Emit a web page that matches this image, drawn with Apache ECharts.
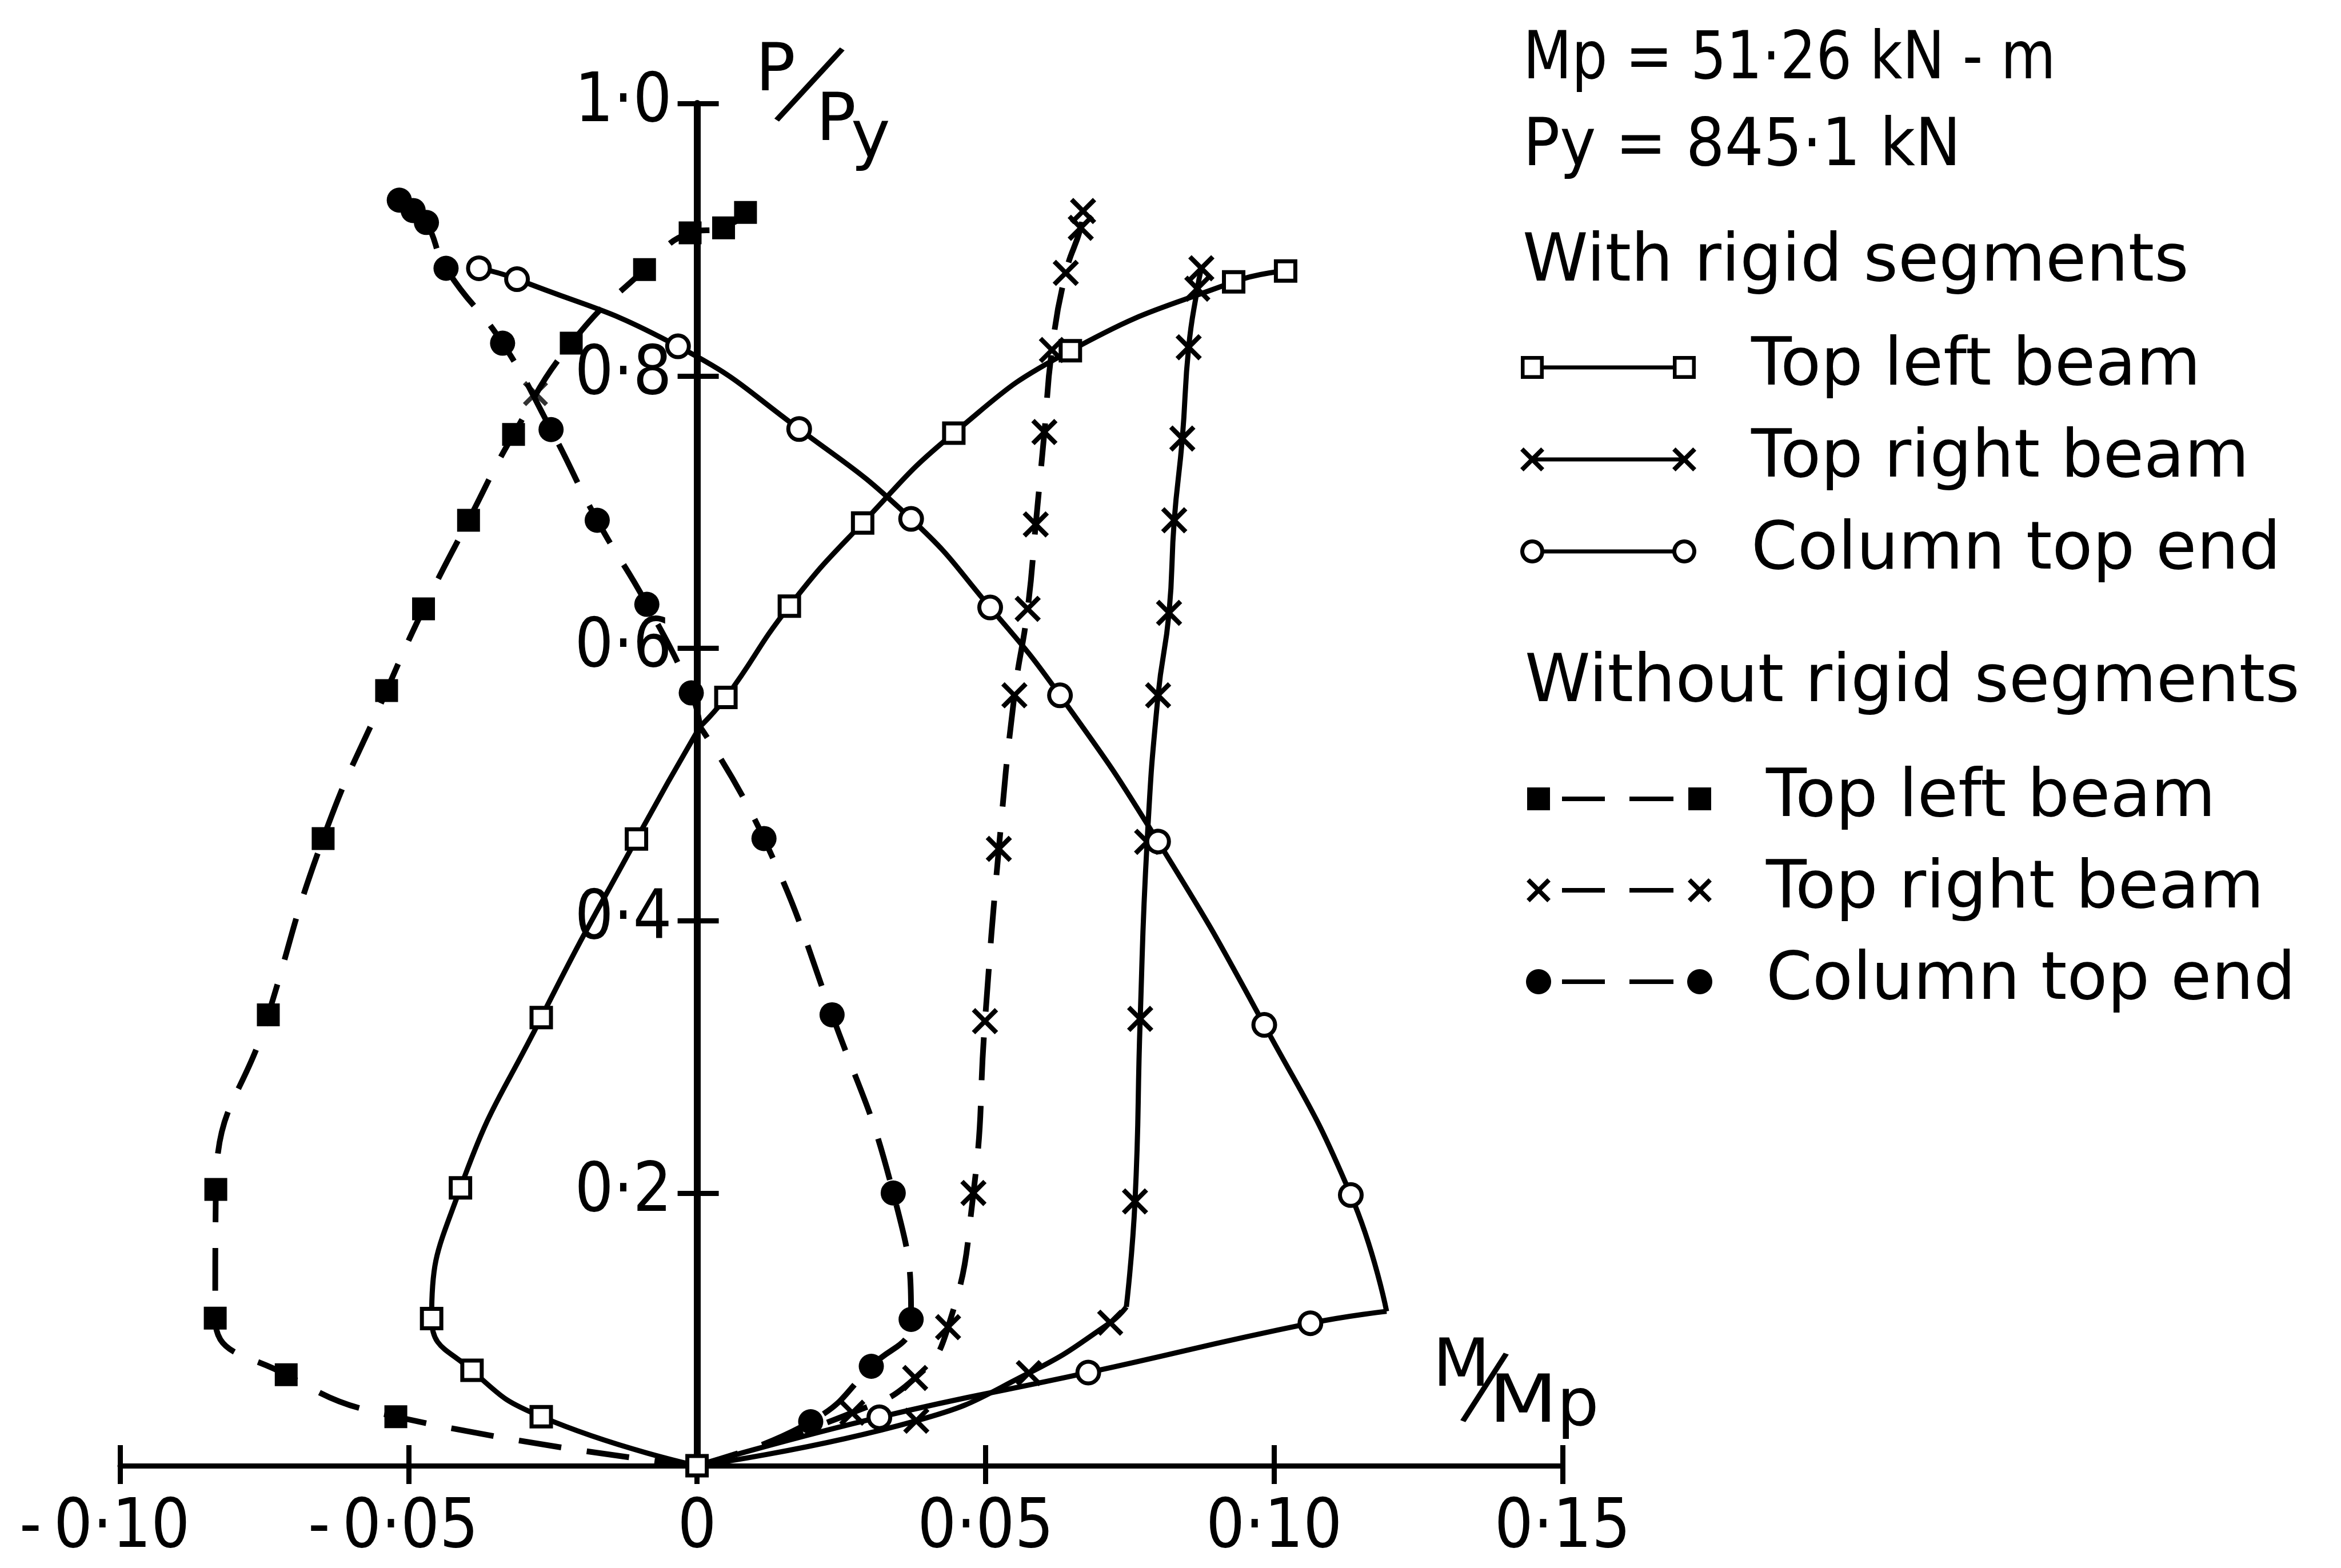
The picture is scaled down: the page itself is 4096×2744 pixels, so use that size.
<!DOCTYPE html>
<html>
<head>
<meta charset="utf-8">
<title>P/Py – M/Mp interaction at the column top</title>
<script src="https://cdn.jsdelivr.net/npm/echarts/dist/echarts.min.js"></script>
<style>
  html, body { margin: 0; padding: 0; background: #fff; }
  #chart { width: 4096px; height: 2744px; }
</style>
</head>
<body>
<div id="chart"></div>
<script>
// ---- axes -------------------------------------------------------------
const xMin = -0.10, xMax = 0.15, xStep = 0.05;
const yMin = 0, yMax = 1.0, yStep = 0.2;
const xTickLabels = ['-\u20090·10', '-\u20090·05', '0', '0·05', '0·10', '0·15'];
const yTickLabels = ['', '0·2', '0·4', '0·6', '0·8', '1·0'];

// ---- curves: [M/Mp, P/Py], from the origin upwards --------------------
// with rigid segments
const withTopLeft = [[0, 0], [-0.027, 0.036], [-0.039, 0.070], [-0.046, 0.108], [-0.041, 0.204],
  [-0.027, 0.329], [-0.0105, 0.460], [0.0005, 0.5425], [0.005, 0.564], [0.016, 0.631],
  [0.0287, 0.692], [0.0445, 0.758], [0.0647, 0.8185], [0.093, 0.869], [0.102, 0.877]];
const withTopRight = [[0, 0], [0.038, 0.033], [0.0575, 0.068], [0.0716, 0.105], [0.0744, 0.1166],
  [0.0759, 0.194], [0.0768, 0.328], [0.078, 0.458], [0.0799, 0.5655], [0.0818, 0.626],
  [0.0827, 0.694], [0.0841, 0.754], [0.0852, 0.821], [0.0867, 0.864], [0.0874, 0.879]];
const withColumnTop = [[0, 0], [0.0316, 0.0356], [0.0678, 0.0684], [0.1063, 0.1046], [0.1195, 0.1133],
  [0.1133, 0.1987], [0.0983, 0.3236], [0.0799, 0.4582], [0.0629, 0.5655], [0.0508, 0.630],
  [0.0371, 0.695], [0.0177, 0.761], [-0.0033, 0.8217], [-0.0312, 0.871], [-0.0378, 0.879]];
// without rigid segments
const bareTopLeft = [[0, 0], [-0.0522, 0.036], [-0.0712, 0.0668], [-0.0835, 0.1083], [-0.0834, 0.2028],
  [-0.0743, 0.331], [-0.0648, 0.4604], [-0.0538, 0.569], [-0.0474, 0.629], [-0.0396, 0.694],
  [-0.0318, 0.757], [-0.0218, 0.824], [-0.0091, 0.878], [-0.0012, 0.905], [0.0046, 0.9087], [0.0084, 0.920]];
const bareTopRight = [[0, 0], [0.0269, 0.0389], [0.0378, 0.0644], [0.0435, 0.1017], [0.0479, 0.2002],
  [0.0499, 0.3263], [0.0523, 0.4528], [0.055, 0.5655], [0.0573, 0.629], [0.0587, 0.691],
  [0.0602, 0.7588], [0.0615, 0.819], [0.0639, 0.8756], [0.0665, 0.9087], [0.0669, 0.921]];
const bareColumnTop = [[0, 0], [0.0197, 0.0323], [0.0302, 0.073], [0.0371, 0.1074], [0.034, 0.2002],
  [0.0234, 0.331], [0.0116, 0.4604], [0.0005, 0.5425], [-0.001, 0.5673], [-0.0087, 0.6323],
  [-0.0173, 0.694], [-0.0253, 0.7606], [-0.0337, 0.824], [-0.0435, 0.879], [-0.0469, 0.9126],
  [-0.0492, 0.9214], [-0.0516, 0.929]];
// lone cross where the two dashed left-hand curves meet
const crossingMark = [[-0.028, 0.787]];

// vertices drawn without a marker, and sharp corners of each curve
const withTopLeftPlain = [7], withTopLeftCorners = [7];
const withTopRightPlain = [0, 4], withTopRightCorners = [4];
const withColumnTopPlain = [0, 4], withColumnTopCorners = [4];
const bareTopLeftPlain = [0], bareTopLeftCorners = [];
const bareTopRightPlain = [0], bareTopRightCorners = [];
const bareColumnTopPlain = [0, 7], bareColumnTopCorners = [7];

// ---- drawing helpers ---------------------------------------------------
const FONT = '"DejaVu Sans", "Noto Sans", sans-serif';
const TICK_FONT = '"Liberation Sans Narrow", "DejaVu Sans Condensed", "Liberation Sans", "DejaVu Sans", sans-serif';
const FS = 116;

function crossPath(cx, cy, s, w) {
  const h = s / 2, d = w / Math.SQRT2;
  const pts = [[-h, -h + d], [-h + d, -h], [0, -d], [h - d, -h], [h, -h + d], [d, 0],
    [h, h - d], [h - d, h], [0, d], [-h + d, h], [-h, h - d], [-d, 0]];
  return 'M' + pts.map(p => (cx + p[0]).toFixed(2) + ',' + (cy + p[1]).toFixed(2)).join('L') + 'Z';
}
function rectPath(cx, cy, half, hole) {
  const x0 = cx - half, x1 = cx + half, y0 = cy - half, y1 = cy + half;
  return hole
    ? `M${x0},${y0}L${x0},${y1}L${x1},${y1}L${x1},${y0}Z`
    : `M${x0},${y0}L${x1},${y0}L${x1},${y1}L${x0},${y1}Z`;
}
function circlePath(cx, cy, r, hole) {
  const n = 48; let d = '';
  for (let i = 0; i < n; i++) {
    const a = (hole ? -1 : 1) * i / n * Math.PI * 2;
    d += (i ? 'L' : 'M') + (cx + r * Math.cos(a)).toFixed(2) + ',' + (cy + r * Math.sin(a)).toFixed(2);
  }
  return d + 'Z';
}
function barPath(x0, x1, cy, t) {
  return `M${x0},${cy - t / 2}L${x1},${cy - t / 2}L${x1},${cy + t / 2}L${x0},${cy + t / 2}Z`;
}

const CROSS = 'path://' + crossPath(10, 10, 20, 3.6);
const markers = {
  hollowSquare: { symbol: 'rect', symbolSize: 34, itemStyle: { color: '#fff', borderColor: '#000', borderWidth: 7 } },
  hollowCircle: { symbol: 'circle', symbolSize: 38, itemStyle: { color: '#fff', borderColor: '#000', borderWidth: 7 } },
  cross: { symbol: CROSS, symbolSize: 46, itemStyle: { color: '#000', borderWidth: 0 } },
  solidSquare: { symbol: 'rect', symbolSize: 40, itemStyle: { color: '#000', borderWidth: 0 } },
  solidDot: { symbol: 'circle', symbolSize: 44, itemStyle: { color: '#000', borderWidth: 0 } }
};

// legend keys: a marker at each end joined by a line (solid) or two dashes
function markerPath(kind, cx, cy) {
  switch (kind) {
    case 'hollowSquare': return rectPath(cx, cy, 20, false) + rectPath(cx, cy, 13.5, true);
    case 'hollowCircle': return circlePath(cx, cy, 21, false) + circlePath(cx, cy, 14, true);
    case 'cross': return crossPath(cx, cy, 42, 8);
    case 'solidSquare': return rectPath(cx, cy, 20, false);
    case 'solidDot': return circlePath(cx, cy, 22, false);
  }
}
function keyIcon(kind, dashed) {
  const w = dashed ? 326 : 310, h = 48, cy = h / 2;
  const c0 = 22, c1 = w - 22;
  let d = `M0,0M${w},${h}`;
  if (dashed) {
    d += barPath(63, 138, cy, 8) + barPath(181, 258, cy, 8);
  } else {
    const inset = (kind === 'hollowSquare' || kind === 'hollowCircle') ? 20 : 0;
    d += barPath(c0 + inset, c1 - inset, cy, 7);
  }
  d += markerPath(kind, c0, cy) + markerPath(kind, c1, cy);
  return 'path://' + d;
}

const N = {
  wTL: 'Top left beam (with rigid segments)', wTR: 'Top right beam (with rigid segments)',
  wCT: 'Column top end (with rigid segments)', bTL: 'Top left beam (without rigid segments)',
  bTR: 'Top right beam (without rigid segments)', bCT: 'Column top end (without rigid segments)'
};
const curves = {
  bTL: { name: N.bTL, points: bareTopLeft, plain: bareTopLeftPlain, corners: bareTopLeftCorners, marker: 'solidSquare', dashed: true },
  bTR: { name: N.bTR, points: bareTopRight, plain: bareTopRightPlain, corners: bareTopRightCorners, marker: 'cross', dashed: true },
  bCT: { name: N.bCT, points: bareColumnTop, plain: bareColumnTopPlain, corners: bareColumnTopCorners, marker: 'solidDot', dashed: true },
  wTR: { name: N.wTR, points: withTopRight, plain: withTopRightPlain, corners: withTopRightCorners, marker: 'cross', dashed: false },
  wCT: { name: N.wCT, points: withColumnTop, plain: withColumnTopPlain, corners: withColumnTopCorners, marker: 'hollowCircle', dashed: false },
  wTL: { name: N.wTL, points: withTopLeft, plain: withTopLeftPlain, corners: withTopLeftCorners, marker: 'hollowSquare', dashed: false }
};
const drawOrder = ['bTL', 'bTR', 'bCT', 'wTR', 'wCT', 'wTL'];

const series = [];
drawOrder.forEach((key, ci) => {
  const c = curves[key];
  const cuts = [0].concat(c.corners, [c.points.length - 1]);
  const m = markers[c.marker];
  for (let s = 0; s < cuts.length - 1; s++) {
    const data = [];
    for (let i = cuts[s]; i <= cuts[s + 1]; i++) {
      data.push(c.plain.indexOf(i) >= 0 ? { value: c.points[i], symbol: 'none' } : c.points[i]);
    }
    series.push({
      type: 'line', name: c.name, data: data, smooth: 0.5, clip: false,
      showSymbol: true, symbol: m.symbol, symbolSize: m.symbolSize, itemStyle: m.itemStyle,
      lineStyle: { color: '#000', width: c.dashed ? 10 : 9, type: c.dashed ? [75, 45] : 'solid' },
      emphasis: { disabled: true }, silent: true, z: 2 + ci
    });
  }
});
series.push({
  type: 'scatter', name: 'crossing', data: crossingMark, symbol: CROSS, symbolSize: 44,
  itemStyle: { color: '#000' }, emphasis: { disabled: true }, silent: true, z: 3
});

function legendBlock(left, top, gap, pad, keys) {
  const list = keys.map(k => curves[k]);
  return {
    orient: 'vertical', left: left, top: top, padding: 0, itemGap: gap,
    itemWidth: list[0].dashed ? 326 : 310, itemHeight: 48, selectedMode: false,
    textStyle: { fontFamily: FONT, fontSize: FS, color: '#000', lineHeight: 120, padding: [0, 0, 0, pad] },
    formatter: name => name.split(' (')[0],
    data: list.map(c => ({ name: c.name, icon: keyIcon(c.marker, c.dashed), itemStyle: { color: '#000', borderWidth: 0 } }))
  };
}

function label(text, x, y, extra) {
  return Object.assign({
    type: 'text', x: x, y: y, silent: true,
    style: Object.assign({
      text: text, font: `${FS}px ${FONT}`, fill: '#000',
      align: 'left', textAlign: 'left', verticalAlign: 'middle', textVerticalAlign: 'middle'
    }, extra && extra.style)
  }, extra && extra.el);
}
function slash(x, y, stretch, rot) {
  return label('/', x, y, {
    style: { align: 'center', textAlign: 'center' },
    el: { scaleY: stretch, rotation: rot }
  });
}

const axisText = { fontFamily: TICK_FONT, fontSize: 119, color: '#000' };
const xCommon = { type: 'value', min: xMin, max: xMax, interval: xStep, position: 'bottom', splitLine: { show: false } };
const yCommon = { type: 'value', min: yMin, max: yMax, interval: yStep, position: 'left', splitLine: { show: false } };
const GRID = { left: 210, right: 1362, top: 181, bottom: 179 };
// the labels of the vertical axis sit beside its line at M/Mp = 0
const zeroX = GRID.left + (0 - xMin) / (xMax - xMin) * (4096 - GRID.left - GRID.right);

const chart = echarts.init(document.getElementById('chart'), null, { renderer: 'canvas' });
chart.setOption({
  animation: false,
  backgroundColor: '#fff',
  grid: Object.assign({ containLabel: false, outerBoundsMode: 'none' }, GRID),
  xAxis: [
    Object.assign({}, xCommon, {
      axisLine: { show: true, onZero: false, lineStyle: { color: '#000', width: 9 } },
      axisTick: { show: true, inside: false, length: 32, lineStyle: { color: '#000', width: 9 } },
      axisLabel: Object.assign({}, axisText, {
        margin: 52, showMinLabel: true, showMaxLabel: true, hideOverlap: false,
        formatter: v => xTickLabels[Math.round((v - xMin) / xStep)] + (v < 0 ? '\u2002' : '')
      })
    }),
    Object.assign({}, xCommon, {
      axisLine: { show: false, onZero: false },
      axisTick: { show: true, inside: true, length: 36, lineStyle: { color: '#000', width: 9 } },
      axisLabel: { show: false }
    })
  ],
  yAxis: [
    Object.assign({}, yCommon, {
      axisLine: { show: true, onZero: true, onZeroAxisIndex: 0, lineStyle: { color: '#000', width: 12 } },
      axisTick: { show: true, inside: false, length: 34, lineStyle: { color: '#000', width: 9 } },
      axisLabel: Object.assign({}, axisText, {
        margin: GRID.left - (zeroX - 44), padding: [16, 0, 0, 0],
        showMinLabel: true, showMaxLabel: true, hideOverlap: false,
        formatter: v => yTickLabels[Math.round((v - yMin) / yStep)]
      })
    }),
    Object.assign({}, yCommon, {
      axisLine: { show: false, onZero: true, onZeroAxisIndex: 0 },
      axisTick: { show: true, inside: true, length: 38, lineStyle: { color: '#000', width: 9 } },
      axisLabel: { show: false }
    })
  ],
  legend: [
    legendBlock(2659, 583, 41, 90, ['wTL', 'wTR', 'wCT']),
    legendBlock(2670, 1338, 40, 89, ['bTL', 'bTR', 'bCT'])
  ],
  graphic: [
    label('Mp = 51·26 kN - m', 2665, 107, { el: { scaleX: 0.85 } }),
    label('Py = 845·1 kN', 2665, 259, { el: { scaleX: 0.92 } }),
    label('With rigid segments', 2664, 461),
    label('Without rigid segments', 2668, 1197),
    // P/Py at the top of the vertical axis
    label('P', 1322, 128),
    slash(1410, 158, 1.75, -0.57),
    label('P', 1428, 215),
    label('y', 1489, 245),
    // M/Mp beside the horizontal axis
    label('M', 2507, 2395),
    slash(2594, 2437, 1.44, -0.36),
    label('M', 2605, 2458, { el: { scaleX: 1.2 } }),
    label('p', 2724, 2464)
  ],
  series: series
});
</script>
</body>
</html>
